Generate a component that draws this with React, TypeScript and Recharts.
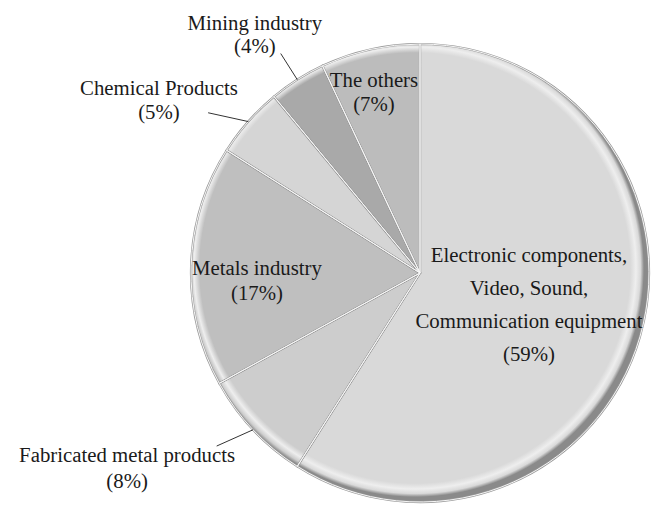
import { PieChart, Pie, Cell } from "recharts";

const categories = [
  "Electronic components, Video, Sound, Communication equipment",
  "Fabricated metal products",
  "Metals industry",
  "Chemical Products",
  "Mining industry",
  "The others",
];
const shares = [59, 8, 17, 5, 4, 7];
const labelLines = [
  ["Electronic components,", "Video, Sound,", "Communication equipment", "(59%)"],
  ["Fabricated metal products", "(8%)"],
  ["Metals industry", "(17%)"],
  ["Chemical Products", "(5%)"],
  ["Mining industry", "(4%)"],
  ["The others", "(7%)"],
];

const data = categories.map((name, i) => ({ name, value: shares[i] }));

const FILLS = ["#d9d9d9", "#cdcdcd", "#bfbfbf", "#d5d5d5", "#a9a9a9", "#bcbcbc"];
// label anchor (first baseline), in units of the outer radius from centre
const LABEL_POS = [
  { fx: 0.476, fy: -0.048, lh: 33 },
  { fx: -1.279, fy: 0.825, lh: 26 },
  { fx: -0.712, fy: 0.009, lh: 25 },
  { fx: -1.14, fy: -0.777, lh: 24 },
  { fx: -0.721, fy: -1.061, lh: 23 },
  { fx: -0.201, fy: -0.812, lh: 24 },
];
// leader lines: [angle shift, outer radius factor] or null
const LEADERS: ([number, number] | null)[] = [null, [-2.8, 1.166], null, [4.3, 1.16], [0, 1.135], null];

const RAD = Math.PI / 180;

function renderLabel(props: any) {
  const { cx, cy, outerRadius, midAngle, index } = props;
  const pos = LABEL_POS[index];
  const x = cx + pos.fx * outerRadius;
  const y = cy + pos.fy * outerRadius;
  const lead = LEADERS[index];
  let line = null;
  if (lead) {
    const a1 = midAngle * RAD;
    const a2 = (midAngle + lead[0]) * RAD;
    line = (
      <line
        x1={cx + outerRadius * Math.cos(a1)}
        y1={cy - outerRadius * Math.sin(a1)}
        x2={cx + outerRadius * lead[1] * Math.cos(a2)}
        y2={cy - outerRadius * lead[1] * Math.sin(a2)}
        stroke="#333"
        strokeWidth={1}
      />
    );
  }
  return (
    <g>
      {line}
      <text
        x={x}
        y={y}
        textAnchor="middle"
        fontFamily="'Liberation Serif', serif"
        fontSize={20.8}
        fill="#1a1a1a"
      >
        {labelLines[index].map((t, k) => (
          <tspan key={k} x={x} dy={k === 0 ? 0 : pos.lh}>
            {t}
          </tspan>
        ))}
      </text>
    </g>
  );
}

export default function App() {
  const cx = 415;
  const cy = 268;
  const r = 229;
  return (
    <div style={{ position: "absolute", left: 0, top: 0, background: "#fff" }}>
      <PieChart width={658} height={507}>
        <defs>
          {FILLS.map((c, i) => (
            <radialGradient
              key={i}
              id={`rim${i}`}
              gradientUnits="userSpaceOnUse"
              cx={cx}
              cy={cy}
              r={r}
            >
              <stop offset="0%" stopColor={c} />
              <stop offset="94%" stopColor={c} />
              <stop offset="96.5%" stopColor="#eeeeee" />
              <stop offset="98.5%" stopColor={c} />
              <stop offset="100%" stopColor="#8a8a8a" />
            </radialGradient>
          ))}
        </defs>
        <Pie
          data={data}
          dataKey="value"
          nameKey="name"
          cx={cx}
          cy={cy}
          outerRadius={r}
          startAngle={90}
          endAngle={-270}
          stroke="#9a9a9a"
          strokeWidth={2.2}
          labelLine={false}
          isAnimationActive={false}
        >
          {data.map((d, i) => (
            <Cell key={d.name} fill={`url(#rim${i})`} />
          ))}
        </Pie>
        <Pie
          data={data}
          dataKey="value"
          nameKey="name"
          cx={cx}
          cy={cy}
          outerRadius={r}
          startAngle={90}
          endAngle={-270}
          fill="none"
          stroke="#f6f6f6"
          strokeWidth={1}
          label={renderLabel}
          labelLine={false}
          isAnimationActive={false}
        />
      </PieChart>
    </div>
  );
}
